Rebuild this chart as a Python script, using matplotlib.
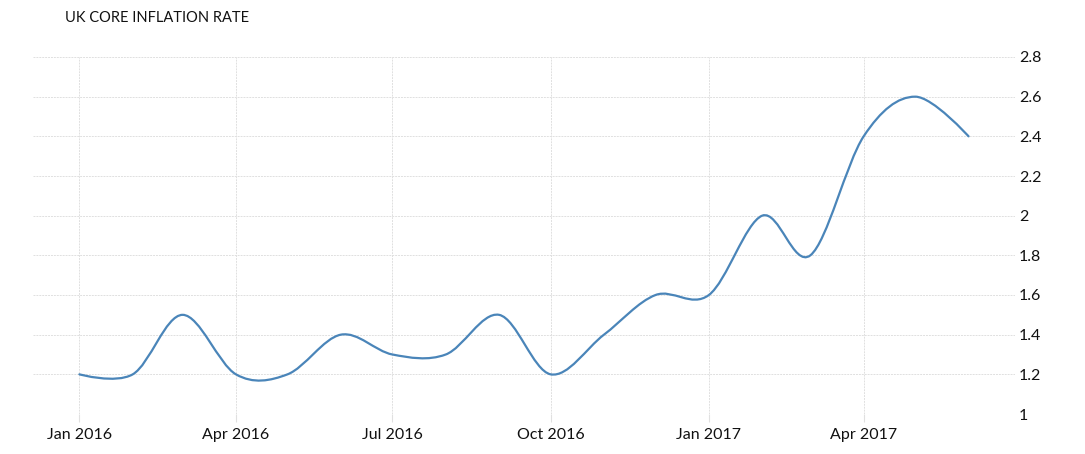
import matplotlib.pyplot as plt
import matplotlib.dates as mdates
from matplotlib.path import Path
from matplotlib.patches import PathPatch
from datetime import date, timedelta

# monthly readings, Jan 2016 - Jun 2017
months = [date(2016, m, 1) for m in range(1, 13)] + [date(2017, m, 1) for m in range(1, 7)]
rate = [1.2, 1.2, 1.5, 1.2, 1.2, 1.4, 1.3, 1.3, 1.5, 1.2, 1.4, 1.6,
        1.6, 2.0, 1.8, 2.4, 2.6, 2.4]

tick_dates = [date(2016, 1, 1), date(2016, 4, 1), date(2016, 7, 1),
              date(2016, 10, 1), date(2017, 1, 1), date(2017, 4, 1)]
tick_labels = ['Jan 2016', 'Apr 2016', 'Jul 2016', 'Oct 2016', 'Jan 2017', 'Apr 2017']
y_ticks = [1, 1.2, 1.4, 1.6, 1.8, 2, 2.2, 2.4, 2.6, 2.8]


def cardinal_path(xs, ys, k=1 / 6):
    # catmull-rom style bezier path, flat tangents at both ends
    n = len(xs)
    verts = [(xs[0], ys[0])]
    codes = [Path.MOVETO]
    for i in range(n - 1):
        x0, y0 = (xs[i - 1], ys[i - 1]) if i > 0 else (xs[i + 1], ys[i + 1])
        x1, y1 = xs[i], ys[i]
        x2, y2 = xs[i + 1], ys[i + 1]
        x3, y3 = (xs[i + 2], ys[i + 2]) if i + 2 < n else (xs[i], ys[i])
        if i == 0:
            c1 = (x1, y1)
        else:
            c1 = (x1 + k * (x2 - x0), y1 + k * (y2 - y0))
        if i + 2 >= n:
            c2 = (x2, y2)
        else:
            c2 = (x2 + k * (x1 - x3), y2 + k * (y1 - y3))
        verts += [c1, c2, (x2, y2)]
        codes += [Path.CURVE4] * 3
    return Path(verts, codes)


plt.rcParams['font.family'] = ['Lato', 'DejaVu Sans']

fig = plt.figure(figsize=(10.85, 4.54), dpi=100)
ax = fig.add_axes([33 / 1085, 1 - 414 / 454, (1015 - 33) / 1085, (414 - 57) / 454])

xn = [mdates.date2num(d) for d in months]
ax.add_patch(PathPatch(cardinal_path(xn, rate), facecolor='none', edgecolor='#4a85b9',
                       lw=1.6, capstyle='round', joinstyle='round', zorder=3))

ax.set_xlim(mdates.date2num(date(2016, 1, 1) - timedelta(days=27.2)),
            mdates.date2num(date(2017, 4, 1) + timedelta(days=88.7)))
ax.set_ylim(1, 2.8)

ax.set_xticks([mdates.date2num(d) for d in tick_dates])
ax.set_xticklabels(tick_labels)
ax.set_yticks(y_ticks)
ax.set_yticklabels(['%g' % v for v in y_ticks])

ax.yaxis.tick_right()
ax.tick_params(axis='y', length=0, pad=3, labelsize=11.5, labelcolor='#111111')
ax.tick_params(axis='x', length=6, width=0.8, color='#e0e0e0', pad=4,
               labelsize=11.5, labelcolor='#111111')

for s in ax.spines.values():
    s.set_visible(False)
ax.grid(True, color='#e0e0e0', linestyle=(0, (2, 1)), linewidth=0.7)
ax.set_axisbelow(True)

fig.text(65 / 1085, 1 - 18 / 454, 'UK CORE INFLATION RATE', fontsize=10.5,
         color='#111111', va='center', ha='left')

fig.savefig('out.png', dpi=100)
